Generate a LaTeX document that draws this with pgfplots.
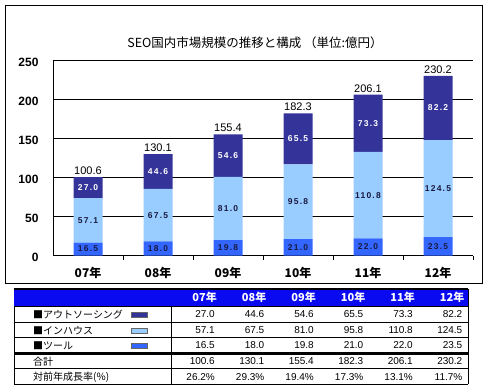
\documentclass[border=0pt]{standalone}
\usepackage{pgfplots}
\pgfplotsset{compat=1.18}
\usepackage{pgfplotstable}
\usepackage{fontspec}
\setmainfont{Liberation Sans}
\newfontfamily\cjk{Noto Sans CJK JP}
\newfontfamily\numsp[LetterSpace=14]{Liberation Sans}
\definecolor{cOut}{HTML}{333399}
\definecolor{cInh}{HTML}{99CCFF}
\definecolor{cTool}{HTML}{3366FF}
\definecolor{cHead}{HTML}{0A0AF0}
\definecolor{cLab}{HTML}{1A1A40}

\pgfplotstableread{
x tool inh out total
0 16.5 57.1 27.0 100.6
1 18.0 67.5 44.6 130.1
2 19.8 81.0 54.6 155.4
3 21.0 95.8 65.5 182.3
4 22.0 110.8 73.3 206.1
5 23.5 124.5 82.2 230.2
}\data

\pgfplotsset{common/.style={
  at={(53pt,-255.5pt)}, anchor=south west,
  scale only axis, width=420pt, height=195pt,
  xmin=-0.5, xmax=5.5, ymin=0, ymax=250, clip=false}}

\begin{document}
\begin{tikzpicture}
\path[use as bounding box] (0pt,0pt) rectangle (487pt,-389pt);
\draw[line width=1pt] (5pt,-5pt) rectangle (482pt,-283pt);
\node[font=\cjk\fontsize{12.5}{13}\selectfont] at (255pt,-43pt) {SEO国内市場規模の推移と構成 （単位:億円）};
\begin{axis}[common,
  ybar stacked, bar width=29pt,
  axis lines*=left, axis line style={black, line width=0.8pt},
  ytick={0,50,...,250},
  xtick={0,...,5},
  xticklabels={07年,08年,09年,10年,11年,12年},
  minor xtick={0.5,1.5,...,5.5},
  major tick length=0pt, minor tick length=4pt, tick align=outside,
  tick style={black, line width=0.8pt},
  ymajorgrids, grid style={black, line width=0.8pt},
  /pgf/number format/assume math mode=true,
  yticklabel style={font=\bfseries\fontsize{12}{12}\selectfont, xshift=-11pt, yshift=-2pt},
  xticklabel style={font=\cjk\bfseries\fontsize{12}{12}\selectfont, yshift=-8pt},
]
\addplot[fill=cTool, draw=none] table[x=x, y=tool] {\data};
\addplot[fill=cInh, draw=none] table[x=x, y=inh] {\data};
\addplot[fill=cOut, draw=none] table[x=x, y=out] {\data};
\end{axis}
\begin{axis}[common, hide axis]
\addplot[draw=none, mark=none, nodes near coords, point meta=explicit symbolic,
  every node near coord/.append style={anchor=center, text=cLab, font=\numsp\bfseries\fontsize{8.5}{9}\selectfont}]
  table[x=x, y expr={\thisrow{tool}/2}, meta=tool] {\data};
\addplot[draw=none, mark=none, nodes near coords, point meta=explicit symbolic,
  every node near coord/.append style={anchor=center, text=cLab, font=\numsp\bfseries\fontsize{8.5}{9}\selectfont}]
  table[x=x, y expr={\thisrow{tool}+\thisrow{inh}/2}, meta=inh] {\data};
\addplot[draw=none, mark=none, nodes near coords, point meta=explicit symbolic,
  every node near coord/.append style={anchor=center, text=white, font=\numsp\bfseries\fontsize{8.5}{9}\selectfont}]
  table[x=x, y expr={\thisrow{tool}+\thisrow{inh}+\thisrow{out}/2}, meta=out] {\data};
\addplot[draw=none, mark=none, nodes near coords, point meta=explicit symbolic,
  every node near coord/.append style={anchor=base, inner sep=0pt, yshift=2.5pt, text=black, font=\fontsize{11}{12}\selectfont}]
  table[x=x, y=total, meta=total] {\data};
\end{axis}
% table
\fill[cHead] (14pt,-289pt) rectangle (468pt,-306pt);
\draw[line width=1.5pt] (14pt,-289pt) -- (468pt,-289pt);
\foreach \yy in {306,322.3,337.7,368.7,384} \draw[line width=0.8pt] (14pt,-\yy pt) -- (468pt,-\yy pt);
\draw[line width=3pt] (14pt,-353pt) -- (468pt,-353pt);
\draw[line width=0.8pt] (14pt,-306pt) -- (14pt,-384pt);
\draw[line width=0.8pt] (468pt,-289pt) -- (468pt,-384pt);
\draw[line width=0.8pt] (171pt,-306pt) -- (171pt,-384pt);
\foreach \t [count=\i from 0] in {07年,08年,09年,10年,11年,12年}
  \node[anchor=east, text=white, inner sep=0pt, font=\cjk\bfseries\fontsize{11}{11}\selectfont] at ({(217+49.5*\i)*1pt}, -297.5pt) {\t};
\foreach \lab/\yy/\col in {■アウトソーシング/314.5/cOut, ■インハウス/330.5/cInh, ■ツール/345.5/cTool} {
  \node[anchor=west, inner sep=0pt, font=\cjk\fontsize{10}{11}\selectfont] at (33pt,-\yy pt) {\lab};
  \draw[fill=\col, draw=black!60, line width=0.6pt] (131pt,{-(\yy-2.5)*1pt}) rectangle (147pt,{-(\yy+2.5)*1pt});
}
\node[anchor=west, inner sep=0pt, font=\cjk\fontsize{10}{11}\selectfont] at (33pt,-361.5pt) {合計};
\node[anchor=west, inner sep=0pt, font=\cjk\fontsize{10}{11}\selectfont] at (33pt,-377pt) {対前年成長率(\%)};
\foreach \yy/\vals in {314.5/{27.0,44.6,54.6,65.5,73.3,82.2}, 330.5/{57.1,67.5,81.0,95.8,110.8,124.5}, 345.5/{16.5,18.0,19.8,21.0,22.0,23.5}, 361.5/{100.6,130.1,155.4,182.3,206.1,230.2}, 377/{26.2\%,29.3\%,19.4\%,17.3\%,13.1\%,11.7\%}}
  \foreach \v [count=\i from 0] in \vals
    \node[anchor=east, inner sep=0pt, font=\fontsize{10}{11}\selectfont] at ({(215+49.5*\i)*1pt}, -\yy pt) {\v};
\end{tikzpicture}
\end{document}
